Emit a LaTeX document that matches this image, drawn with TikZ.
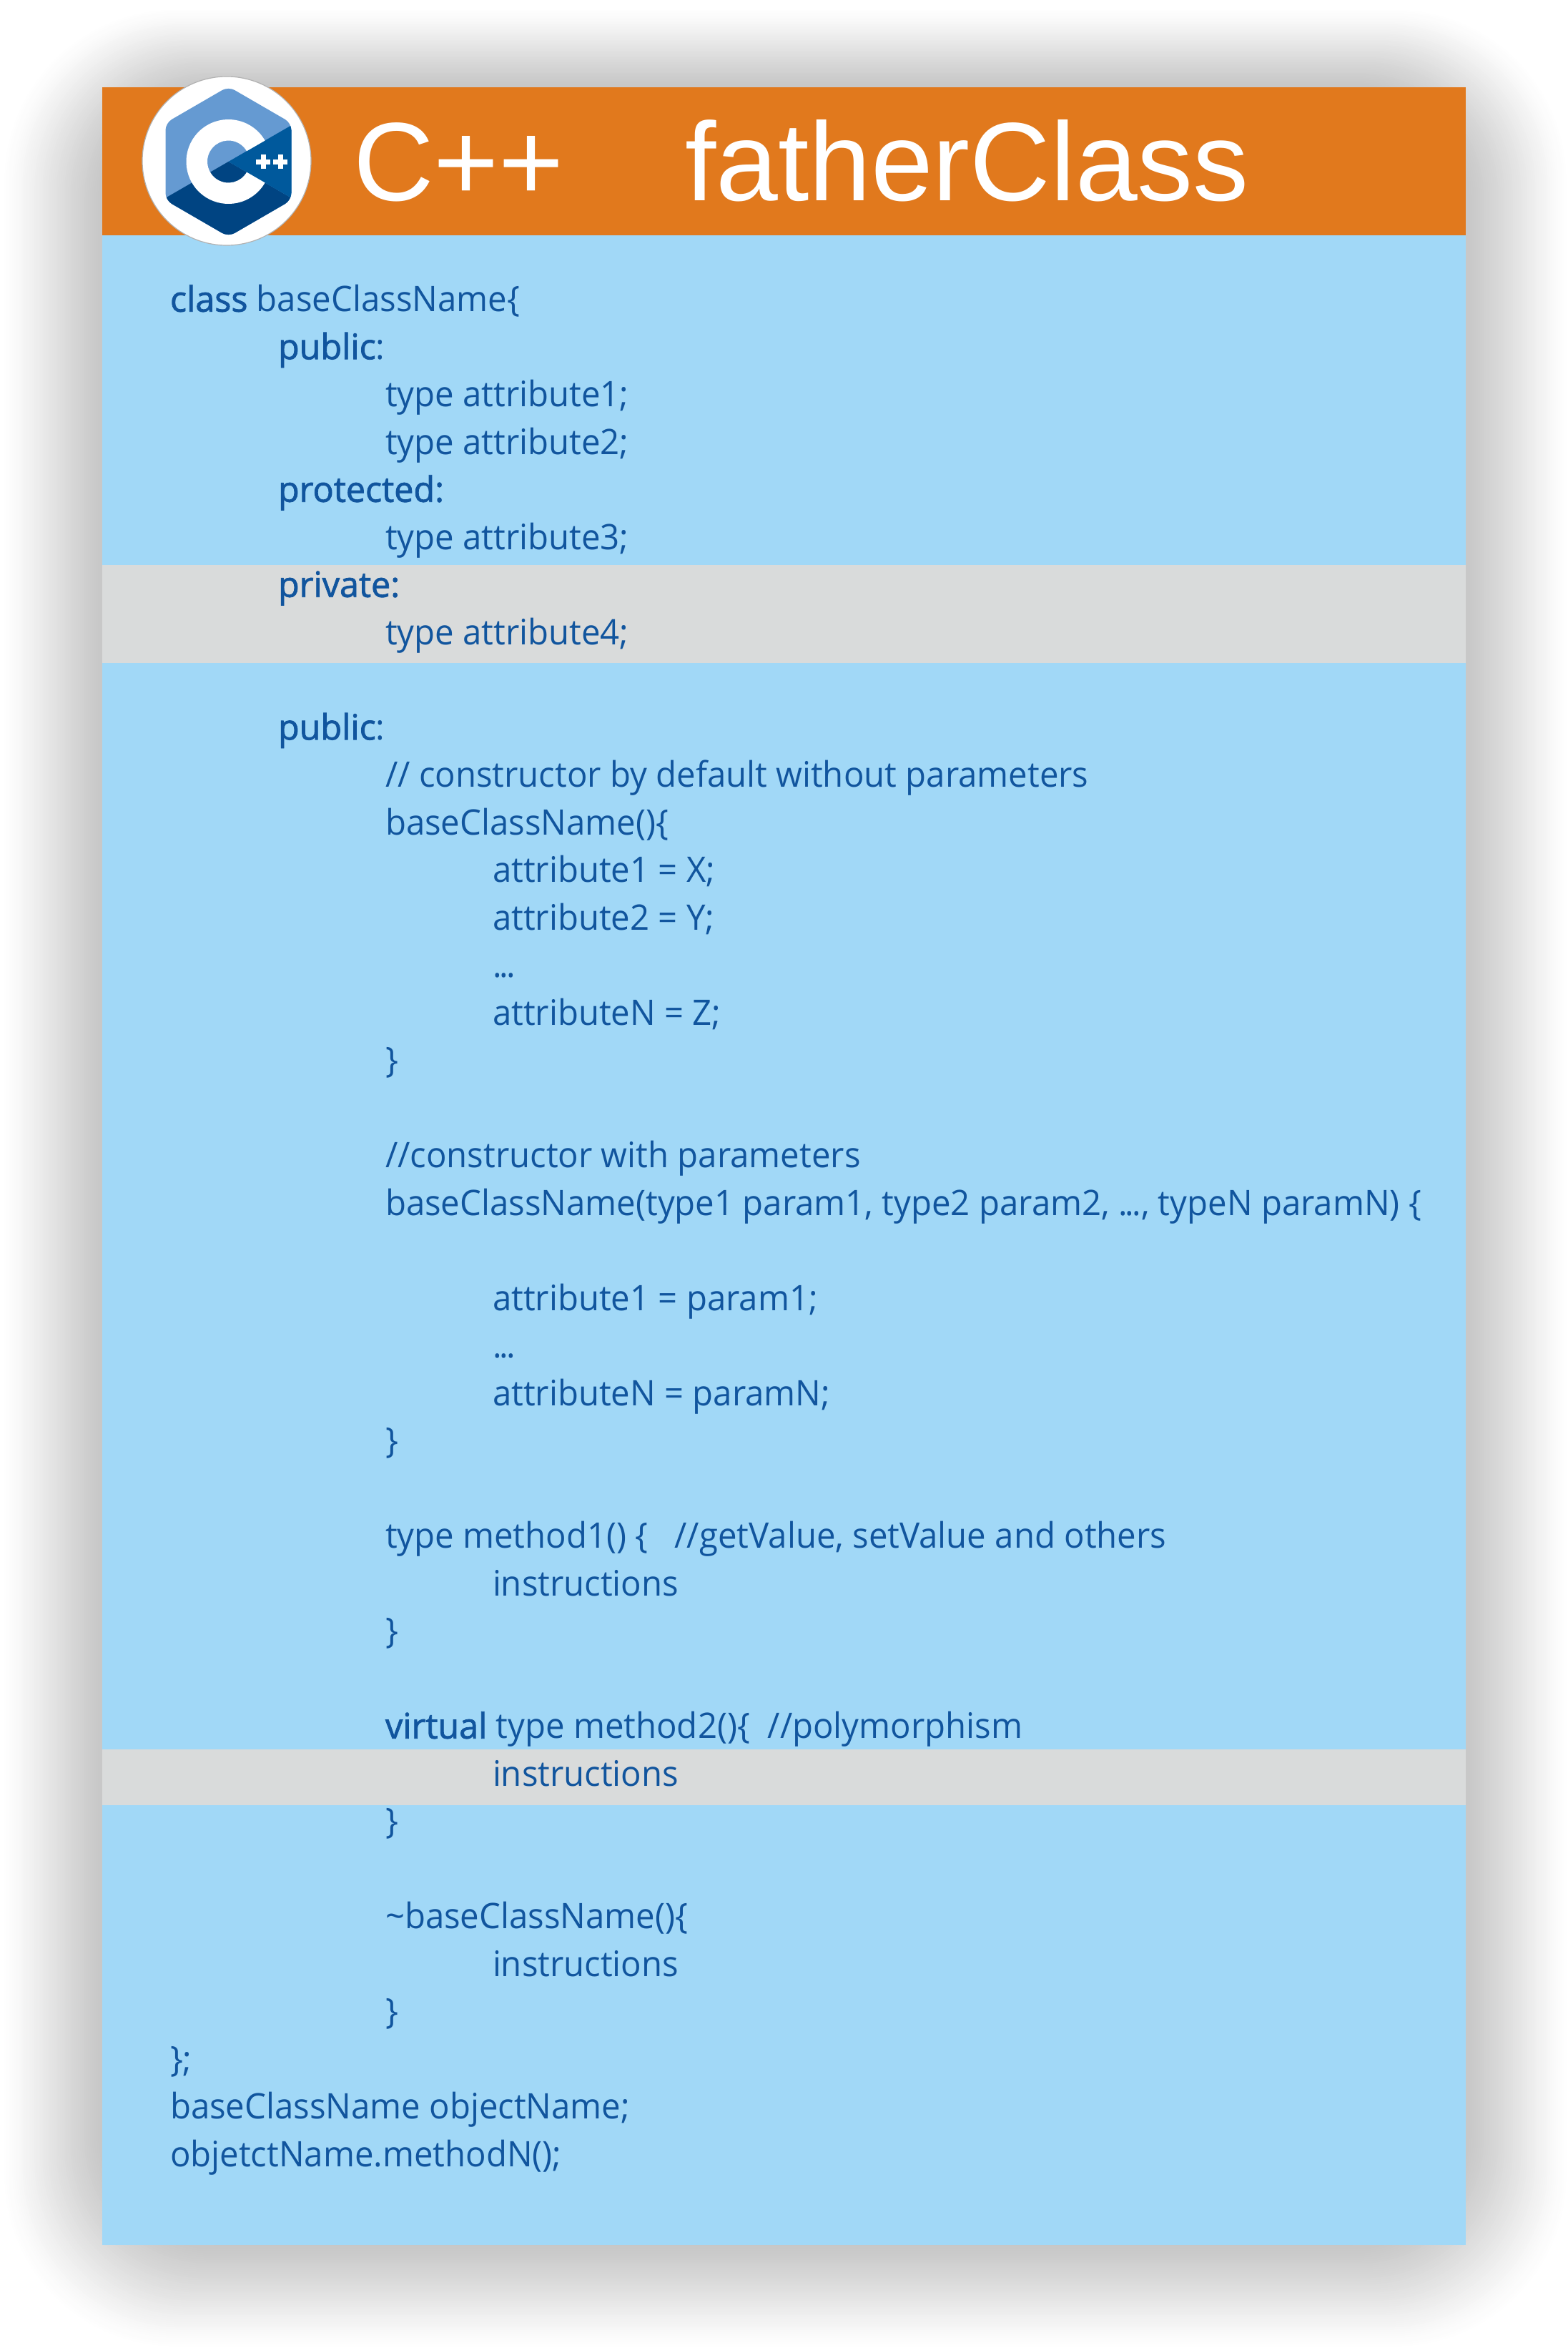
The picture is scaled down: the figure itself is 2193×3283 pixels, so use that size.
\documentclass[tikz,border=0pt]{standalone}
\usepackage{fontspec}
\setmainfont{Open Sans}[FakeStretch=0.962,BoldFont={Open Sans},BoldFeatures={FakeBold=1.6,FakeStretch=0.985}]
\newfontfamily\titlefont{Liberation Sans}
\definecolor{panelblue}{HTML}{A1D8F7}
\definecolor{headorange}{HTML}{E1791D}
\definecolor{hlgray}{HTML}{D9DBDB}
\definecolor{codeblue}{HTML}{11559E}
\definecolor{logolight}{HTML}{659AD2}
\definecolor{logomid}{HTML}{00599C}
\definecolor{logodark}{HTML}{004482}
\tikzset{
  codetext/.style={anchor=base west,inner sep=0pt,outer sep=0pt,text=codeblue,font=\fontsize{24.6pt}{30pt}\selectfont},
  titletext/.style={anchor=base west,inner sep=0pt,outer sep=0pt,text=white,font=\titlefont\fontsize{78pt}{90pt}\selectfont},
}
\newcommand{\cl}[3]{\node[codetext] (l#1) at (#2,{435.7+66.5*#1}) {#3};}
\newcommand{\kw}[1]{\textbf{#1}}
\newcommand{\tdots}{.\kern-1.5pt.\kern-1.5pt.}
\begin{document}
\begin{tikzpicture}[x=0.5pt,y=-0.5pt]
\useasboundingbox (0,0) rectangle (2193,3283);
\fill[white] (0,0) rectangle (2193,3283);
% soft shadow
\foreach \i in {0,...,50}{
  \pgfmathsetmacro{\t}{\i/50}
  \pgfmathsetmacro{\f}{0.7*\t+0.3*\t*\t*(3-2*\t)}
  \pgfmathsetmacro{\p}{22*\f}
  \pgfmathsetmacro{\rr}{120-40*\t}
  \fill[black!\p!white,rounded corners=\rr pt]
    ({4+139*\t},{12+110*\t}) rectangle ({2193-143.5*\t},{3283-144*\t});
}
% panel
\fill[panelblue] (143,122) rectangle (2049.5,3139);
\fill[hlgray] (143,790) rectangle (2049.5,927);
\fill[hlgray] (143,2446) rectangle (2049.5,2524);
\fill[headorange] (143,122) rectangle (2049.5,329);
% logo
\begin{scope}[shift={(319.5,226)}]
  \fill[white,draw=black!30,line width=0.6pt] (-2.5,-1) circle[radius=59pt];
  \begin{scope}
    \clip[rounded corners=5pt] (0,-105) -- (88,-54) -- (88,54) -- (0,105) -- (-88,54) -- (-88,-54) -- cycle;
    \fill[logolight] (-100,-120) rectangle (100,120);
    \fill[logodark] (0,0) -- (100,57.7) -- (100,120) -- (-100,120) -- (-100,57.7) -- cycle;
    \fill[logomid] (0,0) -- (100,-57.7) -- (100,57.7) -- cycle;
  \end{scope}
  \fill[white] (30:29.5pt) arc[start angle=30,end angle=330,radius=29.5pt]
    -- (330:14.75pt) arc[start angle=330,end angle=30,radius=14.75pt] -- cycle;
  \foreach \c in {48.5,72.5}{
    \fill[white] (\c-10,-3.5) rectangle (\c+10,3.5);
    \fill[white] (\c-3.5,-10) rectangle (\c+3.5,10);
  }
\end{scope}
% title
\node[titletext] (titleA) at (494,280) {C++};
\node[titletext] (titleB) at (958,280) {fatherClass};
% code
\cl{0}{238}{\kw{class} baseClassName\{}
\cl{1}{389}{\kw{public}:}
\cl{2}{539}{type attribute1;}
\cl{3}{539}{type attribute2;}
\cl{4}{389}{\kw{protected:}}
\cl{5}{539}{type attribute3;}
\cl{6}{389}{\kw{private:}}
\cl{7}{539}{type attribute4;}
\cl{9}{389}{\kw{public}:}
\cl{10}{539}{// constructor by default without parameters}
\cl{11}{539}{baseClassName()\{}
\cl{12}{689}{attribute1 = X;}
\cl{13}{689}{attribute2 = Y;}
\cl{14}{689}{\tdots}
\cl{15}{689}{attributeN = Z;}
\cl{16}{539}{\}}
\cl{18}{539}{//constructor with parameters}
\cl{19}{539}{baseClassName(type1 param1, type2 param2, \tdots, typeN paramN) \{}
\cl{21}{689}{attribute1 = param1;}
\cl{22}{689}{\tdots}
\cl{23}{689}{attributeN = paramN;}
\cl{24}{539}{\}}
\cl{26}{539}{type method1() \{\ \ \ //getValue, setValue and others}
\cl{27}{689}{instructions}
\cl{28}{539}{\}}
\cl{30}{539}{\kw{virtual} type method2()\{\ \ //polymorphism}
\cl{31}{689}{instructions}
\cl{32}{539}{\}}
\cl{34}{539}{\textasciitilde baseClassName()\{}
\cl{35}{689}{instructions}
\cl{36}{539}{\}}
\cl{37}{238}{\};}
\cl{38}{238}{baseClassName objectName;}
\cl{39}{238}{objetctName.methodN();}
\end{tikzpicture}
\end{document}
